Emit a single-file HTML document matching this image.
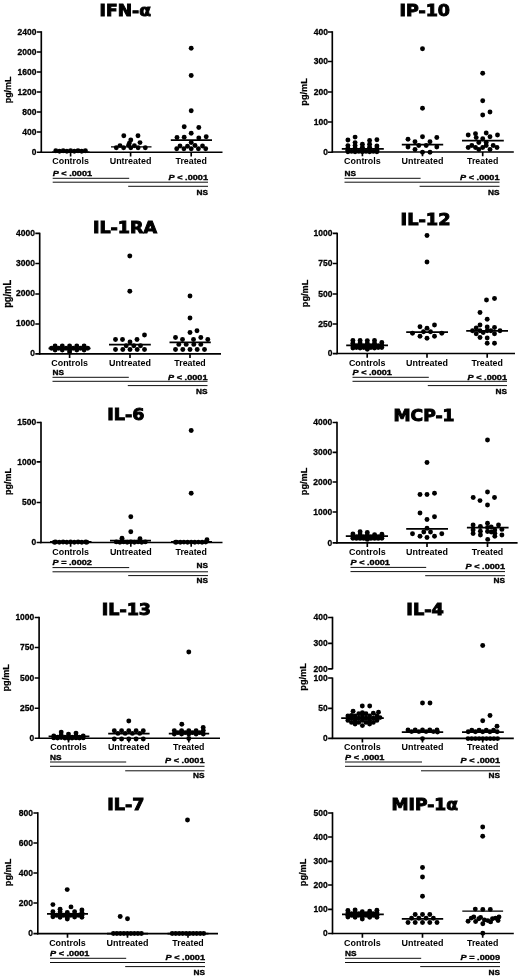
<!DOCTYPE html>
<html lang="en"><head><meta charset="utf-8"><title>Cytokine plasma levels</title>
<style>html,body{margin:0;padding:0;background:#fff}svg{display:block}.t{font-family:'DejaVu Sans', Verdana, sans-serif;font-weight:bold;fill:#000;stroke:#000;stroke-width:.9px;stroke-linejoin:miter}.k{font-family:'Liberation Sans', Arial, Helvetica, sans-serif;font-weight:bold;font-size:9.2px;fill:#000;text-anchor:end;stroke:#000;stroke-width:.3px}.l{font-family:'Liberation Sans', Arial, Helvetica, sans-serif;font-weight:bold;font-size:9.3px;fill:#000;text-anchor:middle}.s{font-family:'Liberation Sans', Arial, Helvetica, sans-serif;font-weight:bold;font-size:7.7px;fill:#000;stroke:#000;stroke-width:.35px}.p{font-family:'Liberation Sans', Arial, Helvetica, sans-serif;font-weight:bold;fill:#000;text-anchor:middle;stroke:#000;stroke-width:.25px}.a{stroke:#000;stroke-width:1.65;fill:none;stroke-linecap:butt}.m{stroke:#000;stroke-width:1.75;fill:none}.g{stroke:#000;stroke-width:.95;fill:none}circle{fill:#000}</style></head><body>
<svg width="520" height="977" viewBox="0 0 520 977">
<rect width="520" height="977" fill="#fff"/>
<g>
<text class="t" x="99.60" y="16.1" font-size="15.5" textLength="51.32" lengthAdjust="spacingAndGlyphs">IFN-α</text>
<path class="a" d="M41.3 31.2V152.9"/>
<path class="a" d="M40.5 152.2H222.5"/>
<path class="a" d="M36.9 32.0H41.3M36.9 52.0H41.3M36.9 72.0H41.3M36.9 92.0H41.3M36.9 112.0H41.3M36.9 132.0H41.3M36.9 152.2H41.3M70.6 152.2V156.4M130.6 152.2V156.4M191.2 152.2V156.4"/>
<text class="k" x="36.5" y="35.0" textLength="18.9" lengthAdjust="spacingAndGlyphs">2400</text>
<text class="k" x="36.5" y="55.0" textLength="18.9" lengthAdjust="spacingAndGlyphs">2000</text>
<text class="k" x="36.5" y="75.0" textLength="18.9" lengthAdjust="spacingAndGlyphs">1600</text>
<text class="k" x="36.5" y="95.0" textLength="18.9" lengthAdjust="spacingAndGlyphs">1200</text>
<text class="k" x="36.5" y="115.0" textLength="14.2" lengthAdjust="spacingAndGlyphs">800</text>
<text class="k" x="36.5" y="135.0" textLength="14.2" lengthAdjust="spacingAndGlyphs">400</text>
<text class="k" x="36.5" y="155.2" textLength="4.7" lengthAdjust="spacingAndGlyphs">0</text>
<text class="l" x="70.6" y="164.4" textLength="36.6" lengthAdjust="spacingAndGlyphs">Controls</text>
<text class="l" x="130.6" y="164.4" textLength="41.8" lengthAdjust="spacingAndGlyphs">Untreated</text>
<text class="l" x="191.2" y="164.4" textLength="31.4" lengthAdjust="spacingAndGlyphs">Treated</text>
<text class="p" transform="translate(10.7 89.9) rotate(-90)" x="0" y="0" font-size="9.8" textLength="26.8" lengthAdjust="spacingAndGlyphs">pg/mL</text>
<path class="g" d="M52.7 178.3H129.2M52.7 182.2H208.0M128.2 186.3H208.0"/>
<text class="s" x="52.7" y="175.7" textLength="39.4" lengthAdjust="spacingAndGlyphs"><tspan font-style="italic">P</tspan> &lt; .0001</text>
<text class="s" x="168.6" y="179.9" textLength="39.4" lengthAdjust="spacingAndGlyphs"><tspan font-style="italic">P</tspan> &lt; .0001</text>
<text class="s" x="196.5" y="194.6" textLength="11.5" lengthAdjust="spacingAndGlyphs">NS</text>
<path class="m" style="stroke-width:1.00" d="M52.0 151.9H89.5"/>
<path class="m" style="stroke-width:1.25" d="M111.0 146.8H151.5"/>
<path class="m" d="M170.8 140.2H212.0"/>
<circle cx="55.8" cy="150.8" r="2.45"/>
<circle cx="63.2" cy="150.8" r="2.45"/>
<circle cx="70.6" cy="150.8" r="2.45"/>
<circle cx="78.0" cy="150.8" r="2.45"/>
<circle cx="85.4" cy="150.8" r="2.45"/>
<circle cx="59.5" cy="151.2" r="2.45"/>
<circle cx="66.9" cy="151.2" r="2.45"/>
<circle cx="74.3" cy="151.2" r="2.45"/>
<circle cx="81.7" cy="151.2" r="2.45"/>
<circle cx="123.8" cy="135.8" r="2.45"/>
<circle cx="138.0" cy="135.8" r="2.45"/>
<circle cx="130.8" cy="140.0" r="2.45"/>
<circle cx="140.0" cy="142.6" r="2.45"/>
<circle cx="120.0" cy="145.6" r="2.45"/>
<circle cx="128.6" cy="145.2" r="2.45"/>
<circle cx="134.4" cy="145.8" r="2.45"/>
<circle cx="129.4" cy="143.1" r="2.45"/>
<circle cx="116.3" cy="147.7" r="2.45"/>
<circle cx="123.6" cy="147.7" r="2.45"/>
<circle cx="130.8" cy="147.7" r="2.45"/>
<circle cx="138.1" cy="147.7" r="2.45"/>
<circle cx="145.3" cy="147.7" r="2.45"/>
<circle cx="191.2" cy="48.3" r="2.45"/>
<circle cx="191.2" cy="75.5" r="2.45"/>
<circle cx="191.2" cy="110.8" r="2.45"/>
<circle cx="184.2" cy="126.8" r="2.45"/>
<circle cx="198.8" cy="127.5" r="2.45"/>
<circle cx="191.2" cy="133.3" r="2.45"/>
<circle cx="177.0" cy="137.5" r="2.45"/>
<circle cx="184.2" cy="137.2" r="2.45"/>
<circle cx="198.8" cy="138.0" r="2.45"/>
<circle cx="206.2" cy="136.8" r="2.45"/>
<circle cx="191.2" cy="142.5" r="2.45"/>
<circle cx="195.0" cy="145.5" r="2.45"/>
<circle cx="180.0" cy="146.0" r="2.45"/>
<circle cx="187.5" cy="146.3" r="2.45"/>
<circle cx="202.5" cy="146.0" r="2.45"/>
<circle cx="176.7" cy="148.8" r="2.45"/>
<circle cx="183.9" cy="148.8" r="2.45"/>
<circle cx="191.2" cy="148.8" r="2.45"/>
<circle cx="198.4" cy="148.8" r="2.45"/>
<circle cx="205.7" cy="148.8" r="2.45"/>
</g>
<g>
<text class="t" x="399.50" y="16.1" font-size="15.5" textLength="50.52" lengthAdjust="spacingAndGlyphs">IP-10</text>
<path class="a" d="M332.3 31.2V152.8"/>
<path class="a" d="M331.6 152.0H513.8"/>
<path class="a" d="M327.9 32.0H332.3M327.9 61.5H332.3M327.9 92.0H332.3M327.9 122.0H332.3M327.9 152.2H332.3M362.4 152.0V156.2M422.5 152.0V156.2M482.7 152.0V156.2"/>
<text class="k" x="327.9" y="34.6" textLength="14.2" lengthAdjust="spacingAndGlyphs">400</text>
<text class="k" x="327.9" y="64.1" textLength="14.2" lengthAdjust="spacingAndGlyphs">300</text>
<text class="k" x="327.9" y="94.6" textLength="14.2" lengthAdjust="spacingAndGlyphs">200</text>
<text class="k" x="327.9" y="124.6" textLength="14.2" lengthAdjust="spacingAndGlyphs">100</text>
<text class="k" x="327.9" y="154.8" textLength="4.7" lengthAdjust="spacingAndGlyphs">0</text>
<text class="l" x="362.4" y="164.0" textLength="36.6" lengthAdjust="spacingAndGlyphs">Controls</text>
<text class="l" x="422.5" y="164.0" textLength="41.8" lengthAdjust="spacingAndGlyphs">Untreated</text>
<text class="l" x="482.7" y="164.0" textLength="31.4" lengthAdjust="spacingAndGlyphs">Treated</text>
<text class="p" transform="translate(306.9 92.0) rotate(-90)" x="0" y="0" font-size="9.8" textLength="27.4" lengthAdjust="spacingAndGlyphs">pg/mL</text>
<path class="g" d="M344.5 178.3H420.6M344.5 182.2H499.5M419.6 186.3H499.5"/>
<text class="s" x="344.5" y="175.7" textLength="11.5" lengthAdjust="spacingAndGlyphs">NS</text>
<text class="s" x="460.1" y="179.9" textLength="39.4" lengthAdjust="spacingAndGlyphs"><tspan font-style="italic">P</tspan> &lt; .0001</text>
<text class="s" x="488.0" y="194.6" textLength="11.5" lengthAdjust="spacingAndGlyphs">NS</text>
<path class="m" d="M341.8 148.8H383.8M401.8 144.6H443.2M462.0 140.5H503.8"/>
<circle cx="347.9" cy="140.0" r="2.45"/>
<circle cx="347.9" cy="145.6" r="2.45"/>
<circle cx="347.9" cy="148.2" r="2.45"/>
<circle cx="355.1" cy="137.1" r="2.45"/>
<circle cx="355.1" cy="142.6" r="2.45"/>
<circle cx="355.1" cy="145.6" r="2.45"/>
<circle cx="355.1" cy="148.2" r="2.45"/>
<circle cx="362.4" cy="144.2" r="2.45"/>
<circle cx="362.4" cy="147.2" r="2.45"/>
<circle cx="369.6" cy="140.4" r="2.45"/>
<circle cx="369.6" cy="144.2" r="2.45"/>
<circle cx="369.6" cy="147.2" r="2.45"/>
<circle cx="376.9" cy="139.8" r="2.45"/>
<circle cx="376.9" cy="146.0" r="2.45"/>
<circle cx="376.9" cy="148.5" r="2.45"/>
<circle cx="347.9" cy="150.3" r="2.45"/>
<circle cx="355.1" cy="150.3" r="2.45"/>
<circle cx="362.4" cy="150.3" r="2.45"/>
<circle cx="369.6" cy="150.3" r="2.45"/>
<circle cx="376.9" cy="150.3" r="2.45"/>
<circle cx="351.5" cy="151.4" r="2.45"/>
<circle cx="358.8" cy="151.4" r="2.45"/>
<circle cx="366.0" cy="151.4" r="2.45"/>
<circle cx="373.3" cy="151.4" r="2.45"/>
<circle cx="347.9" cy="151.7" r="2.45"/>
<circle cx="355.1" cy="151.7" r="2.45"/>
<circle cx="362.4" cy="151.7" r="2.45"/>
<circle cx="369.6" cy="151.7" r="2.45"/>
<circle cx="376.9" cy="151.7" r="2.45"/>
<circle cx="422.5" cy="48.8" r="2.45"/>
<circle cx="422.5" cy="108.3" r="2.45"/>
<circle cx="422.5" cy="136.8" r="2.45"/>
<circle cx="408.0" cy="139.3" r="2.45"/>
<circle cx="436.8" cy="137.5" r="2.45"/>
<circle cx="415.0" cy="141.8" r="2.45"/>
<circle cx="430.0" cy="141.8" r="2.45"/>
<circle cx="418.8" cy="145.5" r="2.45"/>
<circle cx="426.2" cy="145.5" r="2.45"/>
<circle cx="408.0" cy="147.0" r="2.45"/>
<circle cx="436.8" cy="147.0" r="2.45"/>
<circle cx="415.0" cy="149.5" r="2.45"/>
<circle cx="422.5" cy="152.3" r="2.45"/>
<circle cx="430.0" cy="152.3" r="2.45"/>
<circle cx="482.7" cy="73.3" r="2.45"/>
<circle cx="482.7" cy="100.8" r="2.45"/>
<circle cx="482.7" cy="115.0" r="2.45"/>
<circle cx="490.0" cy="112.0" r="2.45"/>
<circle cx="486.2" cy="133.0" r="2.45"/>
<circle cx="468.2" cy="135.0" r="2.45"/>
<circle cx="475.5" cy="133.8" r="2.45"/>
<circle cx="497.5" cy="135.0" r="2.45"/>
<circle cx="490.0" cy="136.8" r="2.45"/>
<circle cx="476.2" cy="137.6" r="2.45"/>
<circle cx="482.7" cy="138.8" r="2.45"/>
<circle cx="478.8" cy="142.5" r="2.45"/>
<circle cx="486.2" cy="142.5" r="2.45"/>
<circle cx="471.8" cy="145.5" r="2.45"/>
<circle cx="486.2" cy="145.5" r="2.45"/>
<circle cx="493.2" cy="145.5" r="2.45"/>
<circle cx="468.2" cy="147.5" r="2.45"/>
<circle cx="475.5" cy="147.5" r="2.45"/>
<circle cx="482.7" cy="147.5" r="2.45"/>
<circle cx="497.0" cy="147.5" r="2.45"/>
<circle cx="478.8" cy="149.5" r="2.45"/>
<circle cx="490.0" cy="149.5" r="2.45"/>
</g>
<g>
<text class="t" x="92.90" y="233.1" font-size="15.5" textLength="64.12" lengthAdjust="spacingAndGlyphs">IL-1RA</text>
<path class="a" d="M39.7 232.7V354.6"/>
<path class="a" d="M39.0 353.8H221.0"/>
<path class="a" d="M35.3 233.4H39.7M35.3 263.5H39.7M35.3 294.0H39.7M35.3 324.0H39.7M35.3 353.8H39.7M69.6 353.8V358.0M130.0 353.8V358.0M190.0 353.8V358.0"/>
<text class="k" x="34.9" y="235.5" textLength="18.9" lengthAdjust="spacingAndGlyphs">4000</text>
<text class="k" x="34.9" y="265.6" textLength="18.9" lengthAdjust="spacingAndGlyphs">3000</text>
<text class="k" x="34.9" y="296.1" textLength="18.9" lengthAdjust="spacingAndGlyphs">2000</text>
<text class="k" x="34.9" y="326.1" textLength="18.9" lengthAdjust="spacingAndGlyphs">1000</text>
<text class="k" x="34.9" y="355.9" textLength="4.7" lengthAdjust="spacingAndGlyphs">0</text>
<text class="l" x="69.6" y="366.0" textLength="36.6" lengthAdjust="spacingAndGlyphs">Controls</text>
<text class="l" x="130.0" y="366.0" textLength="41.8" lengthAdjust="spacingAndGlyphs">Untreated</text>
<text class="l" x="190.0" y="366.0" textLength="31.4" lengthAdjust="spacingAndGlyphs">Treated</text>
<text class="p" transform="translate(10.7 293.9) rotate(-90)" x="0" y="0" font-size="10.6" textLength="27.9" lengthAdjust="spacingAndGlyphs">pg/mL</text>
<path class="g" d="M52.5 377.3H128.8M52.5 381.3H207.5M127.8 385.6H207.5"/>
<text class="s" x="52.5" y="375.0" textLength="11.5" lengthAdjust="spacingAndGlyphs">NS</text>
<text class="s" x="168.1" y="379.5" textLength="39.4" lengthAdjust="spacingAndGlyphs"><tspan font-style="italic">P</tspan> &lt; .0001</text>
<text class="s" x="196.0" y="393.8" textLength="11.5" lengthAdjust="spacingAndGlyphs">NS</text>
<path class="m" d="M48.5 348.3H90.5M109.0 344.5H150.8M169.5 342.3H210.8"/>
<circle cx="55.1" cy="346.0" r="2.45"/>
<circle cx="62.3" cy="346.0" r="2.45"/>
<circle cx="69.6" cy="346.0" r="2.45"/>
<circle cx="76.8" cy="346.0" r="2.45"/>
<circle cx="84.1" cy="346.0" r="2.45"/>
<circle cx="51.5" cy="348.2" r="2.45"/>
<circle cx="58.7" cy="348.2" r="2.45"/>
<circle cx="66.0" cy="348.2" r="2.45"/>
<circle cx="73.2" cy="348.2" r="2.45"/>
<circle cx="80.5" cy="348.2" r="2.45"/>
<circle cx="87.7" cy="348.2" r="2.45"/>
<circle cx="55.1" cy="350.0" r="2.45"/>
<circle cx="62.3" cy="350.0" r="2.45"/>
<circle cx="69.6" cy="350.0" r="2.45"/>
<circle cx="76.8" cy="350.0" r="2.45"/>
<circle cx="84.1" cy="350.0" r="2.45"/>
<circle cx="69.6" cy="352.0" r="2.45"/>
<circle cx="129.8" cy="256.0" r="2.45"/>
<circle cx="129.8" cy="291.3" r="2.45"/>
<circle cx="115.5" cy="339.5" r="2.45"/>
<circle cx="122.5" cy="339.5" r="2.45"/>
<circle cx="137.0" cy="339.5" r="2.45"/>
<circle cx="144.5" cy="335.0" r="2.45"/>
<circle cx="130.0" cy="342.0" r="2.45"/>
<circle cx="126.2" cy="345.8" r="2.45"/>
<circle cx="133.8" cy="345.8" r="2.45"/>
<circle cx="140.5" cy="345.8" r="2.45"/>
<circle cx="115.5" cy="349.5" r="2.45"/>
<circle cx="122.8" cy="349.5" r="2.45"/>
<circle cx="130.0" cy="349.5" r="2.45"/>
<circle cx="137.2" cy="349.5" r="2.45"/>
<circle cx="144.5" cy="349.5" r="2.45"/>
<circle cx="190.0" cy="296.0" r="2.45"/>
<circle cx="190.0" cy="318.0" r="2.45"/>
<circle cx="190.0" cy="332.5" r="2.45"/>
<circle cx="197.0" cy="330.8" r="2.45"/>
<circle cx="175.5" cy="337.5" r="2.45"/>
<circle cx="200.8" cy="337.5" r="2.45"/>
<circle cx="182.5" cy="339.5" r="2.45"/>
<circle cx="193.5" cy="339.5" r="2.45"/>
<circle cx="207.8" cy="339.5" r="2.45"/>
<circle cx="178.8" cy="344.4" r="2.45"/>
<circle cx="186.2" cy="344.4" r="2.45"/>
<circle cx="193.8" cy="344.4" r="2.45"/>
<circle cx="200.8" cy="344.4" r="2.45"/>
<circle cx="175.5" cy="349.5" r="2.45"/>
<circle cx="182.8" cy="349.5" r="2.45"/>
<circle cx="190.0" cy="349.5" r="2.45"/>
<circle cx="197.2" cy="349.5" r="2.45"/>
<circle cx="204.5" cy="349.5" r="2.45"/>
</g>
<g>
<text class="t" x="400.60" y="225.1" font-size="15.5" textLength="49.95" lengthAdjust="spacingAndGlyphs">IL-12</text>
<path class="a" d="M337.2 232.7V354.2"/>
<path class="a" d="M336.4 353.5H515.0"/>
<path class="a" d="M332.8 233.4H337.2M332.8 263.5H337.2M332.8 294.0H337.2M332.8 324.0H337.2M332.8 353.6H337.2M367.2 353.5V357.7M427.0 353.5V357.7M487.2 353.5V357.7"/>
<text class="k" x="332.4" y="236.1" textLength="18.9" lengthAdjust="spacingAndGlyphs">1000</text>
<text class="k" x="332.4" y="266.2" textLength="14.2" lengthAdjust="spacingAndGlyphs">750</text>
<text class="k" x="332.4" y="296.7" textLength="14.2" lengthAdjust="spacingAndGlyphs">500</text>
<text class="k" x="332.4" y="326.7" textLength="14.2" lengthAdjust="spacingAndGlyphs">250</text>
<text class="k" x="332.4" y="356.3" textLength="4.7" lengthAdjust="spacingAndGlyphs">0</text>
<text class="l" x="367.2" y="366.0" textLength="36.6" lengthAdjust="spacingAndGlyphs">Controls</text>
<text class="l" x="427.0" y="366.0" textLength="41.8" lengthAdjust="spacingAndGlyphs">Untreated</text>
<text class="l" x="487.2" y="366.0" textLength="31.4" lengthAdjust="spacingAndGlyphs">Treated</text>
<text class="p" transform="translate(307.9 293.5) rotate(-90)" x="0" y="0" font-size="9.8" textLength="27.4" lengthAdjust="spacingAndGlyphs">pg/mL</text>
<path class="g" d="M352.5 377.3H428.8M352.5 381.3H507.0M427.8 385.6H507.0"/>
<text class="s" x="352.5" y="375.0" textLength="39.4" lengthAdjust="spacingAndGlyphs"><tspan font-style="italic">P</tspan> &lt; .0001</text>
<text class="s" x="467.6" y="379.5" textLength="39.4" lengthAdjust="spacingAndGlyphs"><tspan font-style="italic">P</tspan> &lt; .0001</text>
<text class="s" x="495.5" y="393.8" textLength="11.5" lengthAdjust="spacingAndGlyphs">NS</text>
<path class="m" d="M346.2 345.3H388.0M406.2 332.1H448.0M466.2 330.8H508.0"/>
<circle cx="352.9" cy="340.5" r="2.45"/>
<circle cx="352.9" cy="343.2" r="2.45"/>
<circle cx="352.9" cy="345.8" r="2.45"/>
<circle cx="352.9" cy="348.0" r="2.45"/>
<circle cx="360.1" cy="340.5" r="2.45"/>
<circle cx="360.1" cy="343.2" r="2.45"/>
<circle cx="360.1" cy="345.8" r="2.45"/>
<circle cx="360.1" cy="348.0" r="2.45"/>
<circle cx="367.3" cy="340.6" r="2.45"/>
<circle cx="367.3" cy="343.2" r="2.45"/>
<circle cx="367.3" cy="345.8" r="2.45"/>
<circle cx="367.3" cy="348.0" r="2.45"/>
<circle cx="367.3" cy="349.2" r="2.45"/>
<circle cx="374.5" cy="340.5" r="2.45"/>
<circle cx="374.5" cy="343.2" r="2.45"/>
<circle cx="374.5" cy="345.8" r="2.45"/>
<circle cx="374.5" cy="348.0" r="2.45"/>
<circle cx="381.8" cy="342.4" r="2.45"/>
<circle cx="381.8" cy="345.0" r="2.45"/>
<circle cx="381.8" cy="347.6" r="2.45"/>
<circle cx="356.4" cy="345.6" r="2.45"/>
<circle cx="363.7" cy="345.6" r="2.45"/>
<circle cx="370.9" cy="345.6" r="2.45"/>
<circle cx="378.2" cy="345.6" r="2.45"/>
<circle cx="356.4" cy="347.6" r="2.45"/>
<circle cx="363.7" cy="347.6" r="2.45"/>
<circle cx="370.9" cy="347.6" r="2.45"/>
<circle cx="378.2" cy="347.6" r="2.45"/>
<circle cx="427.0" cy="235.5" r="2.45"/>
<circle cx="427.0" cy="262.0" r="2.45"/>
<circle cx="420.0" cy="326.8" r="2.45"/>
<circle cx="434.5" cy="325.0" r="2.45"/>
<circle cx="427.0" cy="328.3" r="2.45"/>
<circle cx="423.5" cy="331.8" r="2.45"/>
<circle cx="430.5" cy="331.8" r="2.45"/>
<circle cx="412.5" cy="333.3" r="2.45"/>
<circle cx="441.8" cy="333.3" r="2.45"/>
<circle cx="420.0" cy="336.3" r="2.45"/>
<circle cx="434.5" cy="336.3" r="2.45"/>
<circle cx="427.0" cy="338.3" r="2.45"/>
<circle cx="494.5" cy="298.5" r="2.45"/>
<circle cx="486.5" cy="300.0" r="2.45"/>
<circle cx="480.0" cy="312.5" r="2.45"/>
<circle cx="487.2" cy="319.3" r="2.45"/>
<circle cx="480.0" cy="325.0" r="2.45"/>
<circle cx="487.2" cy="327.0" r="2.45"/>
<circle cx="494.5" cy="327.5" r="2.45"/>
<circle cx="476.2" cy="328.0" r="2.45"/>
<circle cx="472.5" cy="330.8" r="2.45"/>
<circle cx="480.0" cy="330.8" r="2.45"/>
<circle cx="487.2" cy="330.8" r="2.45"/>
<circle cx="490.8" cy="330.8" r="2.45"/>
<circle cx="500.0" cy="330.8" r="2.45"/>
<circle cx="476.2" cy="333.8" r="2.45"/>
<circle cx="494.5" cy="333.8" r="2.45"/>
<circle cx="483.2" cy="332.5" r="2.45"/>
<circle cx="480.0" cy="337.5" r="2.45"/>
<circle cx="487.2" cy="338.0" r="2.45"/>
<circle cx="487.2" cy="343.3" r="2.45"/>
<circle cx="494.5" cy="343.3" r="2.45"/>
</g>
<g>
<text class="t" x="107.30" y="420.1" font-size="15.5" textLength="37.17" lengthAdjust="spacingAndGlyphs">IL-6</text>
<path class="a" d="M41.0 421.8V543.2"/>
<path class="a" d="M40.2 542.5H222.5"/>
<path class="a" d="M36.6 422.5H41.0M36.6 461.8H41.0M36.6 502.5H41.0M36.6 542.5H41.0M70.6 542.5V546.7M130.8 542.5V546.7M191.2 542.5V546.7"/>
<text class="k" x="36.2" y="425.2" textLength="18.9" lengthAdjust="spacingAndGlyphs">1500</text>
<text class="k" x="36.2" y="464.5" textLength="18.9" lengthAdjust="spacingAndGlyphs">1000</text>
<text class="k" x="36.2" y="505.2" textLength="14.2" lengthAdjust="spacingAndGlyphs">500</text>
<text class="k" x="36.2" y="545.2" textLength="4.7" lengthAdjust="spacingAndGlyphs">0</text>
<text class="l" x="70.6" y="554.5" textLength="36.6" lengthAdjust="spacingAndGlyphs">Controls</text>
<text class="l" x="130.8" y="554.5" textLength="41.8" lengthAdjust="spacingAndGlyphs">Untreated</text>
<text class="l" x="191.2" y="554.5" textLength="31.4" lengthAdjust="spacingAndGlyphs">Treated</text>
<text class="p" transform="translate(10.7 481.6) rotate(-90)" x="0" y="0" font-size="8.9" textLength="26.9" lengthAdjust="spacingAndGlyphs">pg/mL</text>
<path class="g" d="M52.5 567.6H129.2M52.5 571.8H208.0M128.2 575.6H208.0"/>
<text class="s" x="52.5" y="565.0" textLength="39.4" lengthAdjust="spacingAndGlyphs"><tspan font-style="italic">P</tspan> = .0002</text>
<text class="s" x="196.5" y="568.3" textLength="11.5" lengthAdjust="spacingAndGlyphs">NS</text>
<text class="s" x="196.5" y="583.3" textLength="11.5" lengthAdjust="spacingAndGlyphs">NS</text>
<path class="m" d="M50.0 541.8H91.5M110.0 540.6H151.0M171.0 541.8H212.0"/>
<circle cx="55.6" cy="542.0" r="2.45"/>
<circle cx="63.1" cy="542.0" r="2.45"/>
<circle cx="70.6" cy="542.0" r="2.45"/>
<circle cx="78.1" cy="542.0" r="2.45"/>
<circle cx="85.6" cy="542.0" r="2.45"/>
<circle cx="59.3" cy="542.3" r="2.45"/>
<circle cx="66.8" cy="542.3" r="2.45"/>
<circle cx="74.3" cy="542.3" r="2.45"/>
<circle cx="81.8" cy="542.3" r="2.45"/>
<circle cx="54.4" cy="542.3" r="2.45"/>
<circle cx="86.8" cy="542.3" r="2.45"/>
<circle cx="130.8" cy="516.8" r="2.45"/>
<circle cx="130.8" cy="531.8" r="2.45"/>
<circle cx="122.0" cy="538.3" r="2.45"/>
<circle cx="140.0" cy="538.8" r="2.45"/>
<circle cx="116.3" cy="541.9" r="2.45"/>
<circle cx="123.6" cy="541.9" r="2.45"/>
<circle cx="130.8" cy="541.9" r="2.45"/>
<circle cx="138.1" cy="541.9" r="2.45"/>
<circle cx="145.3" cy="541.9" r="2.45"/>
<circle cx="119.9" cy="542.2" r="2.45"/>
<circle cx="127.2" cy="542.2" r="2.45"/>
<circle cx="134.4" cy="542.2" r="2.45"/>
<circle cx="141.7" cy="542.2" r="2.45"/>
<circle cx="191.2" cy="430.5" r="2.45"/>
<circle cx="191.2" cy="493.3" r="2.45"/>
<circle cx="207.0" cy="539.8" r="2.45"/>
<circle cx="176.7" cy="542.1" r="2.45"/>
<circle cx="183.9" cy="542.1" r="2.45"/>
<circle cx="191.2" cy="542.1" r="2.45"/>
<circle cx="198.4" cy="542.1" r="2.45"/>
<circle cx="205.7" cy="542.1" r="2.45"/>
<circle cx="180.3" cy="542.3" r="2.45"/>
<circle cx="187.6" cy="542.3" r="2.45"/>
<circle cx="194.8" cy="542.3" r="2.45"/>
<circle cx="202.1" cy="542.3" r="2.45"/>
<circle cx="175.5" cy="542.3" r="2.45"/>
</g>
<g>
<text class="t" x="393.50" y="421.1" font-size="15.5" textLength="61.02" lengthAdjust="spacingAndGlyphs">MCP-1</text>
<path class="a" d="M337.0 421.8V543.5"/>
<path class="a" d="M336.2 542.8H517.6"/>
<path class="a" d="M332.6 422.5H337.0M332.6 452.3H337.0M332.6 482.0H337.0M332.6 512.0H337.0M332.6 542.8H337.0M367.3 542.8V547.0M427.0 542.8V547.0M487.5 542.8V547.0"/>
<text class="k" x="332.2" y="425.2" textLength="18.9" lengthAdjust="spacingAndGlyphs">4000</text>
<text class="k" x="332.2" y="455.0" textLength="18.9" lengthAdjust="spacingAndGlyphs">3000</text>
<text class="k" x="332.2" y="484.7" textLength="18.9" lengthAdjust="spacingAndGlyphs">2000</text>
<text class="k" x="332.2" y="514.7" textLength="18.9" lengthAdjust="spacingAndGlyphs">1000</text>
<text class="k" x="332.2" y="545.5" textLength="4.7" lengthAdjust="spacingAndGlyphs">0</text>
<text class="l" x="367.3" y="554.9" textLength="36.6" lengthAdjust="spacingAndGlyphs">Controls</text>
<text class="l" x="427.0" y="554.9" textLength="41.8" lengthAdjust="spacingAndGlyphs">Untreated</text>
<text class="l" x="487.5" y="554.9" textLength="31.4" lengthAdjust="spacingAndGlyphs">Treated</text>
<text class="p" transform="translate(306.9 481.5) rotate(-90)" x="0" y="0" font-size="9.8" textLength="27.4" lengthAdjust="spacingAndGlyphs">pg/mL</text>
<path class="g" d="M350.5 567.4H426.2M350.5 571.6H505.0M425.2 575.7H505.0"/>
<text class="s" x="350.5" y="564.6" textLength="39.4" lengthAdjust="spacingAndGlyphs"><tspan font-style="italic">P</tspan> &lt; .0001</text>
<text class="s" x="465.6" y="569.3" textLength="39.4" lengthAdjust="spacingAndGlyphs"><tspan font-style="italic">P</tspan> &lt; .0001</text>
<text class="s" x="493.5" y="583.3" textLength="11.5" lengthAdjust="spacingAndGlyphs">NS</text>
<path class="m" d="M345.8 536.2H388.0M406.2 528.8H448.0M466.9 527.7H508.6"/>
<circle cx="352.9" cy="533.9" r="2.45"/>
<circle cx="352.9" cy="536.2" r="2.45"/>
<circle cx="352.9" cy="538.2" r="2.45"/>
<circle cx="360.1" cy="531.8" r="2.45"/>
<circle cx="360.1" cy="534.4" r="2.45"/>
<circle cx="360.1" cy="536.8" r="2.45"/>
<circle cx="360.1" cy="538.4" r="2.45"/>
<circle cx="367.3" cy="532.4" r="2.45"/>
<circle cx="367.3" cy="535.0" r="2.45"/>
<circle cx="367.3" cy="537.2" r="2.45"/>
<circle cx="367.3" cy="539.4" r="2.45"/>
<circle cx="374.6" cy="534.6" r="2.45"/>
<circle cx="374.6" cy="536.8" r="2.45"/>
<circle cx="374.6" cy="538.4" r="2.45"/>
<circle cx="381.9" cy="534.3" r="2.45"/>
<circle cx="381.9" cy="536.6" r="2.45"/>
<circle cx="381.9" cy="538.2" r="2.45"/>
<circle cx="356.4" cy="536.6" r="2.45"/>
<circle cx="363.7" cy="536.6" r="2.45"/>
<circle cx="370.9" cy="536.6" r="2.45"/>
<circle cx="378.2" cy="536.6" r="2.45"/>
<circle cx="356.4" cy="538.4" r="2.45"/>
<circle cx="363.7" cy="538.4" r="2.45"/>
<circle cx="370.9" cy="538.4" r="2.45"/>
<circle cx="378.2" cy="538.4" r="2.45"/>
<circle cx="427.0" cy="462.5" r="2.45"/>
<circle cx="420.0" cy="494.5" r="2.45"/>
<circle cx="427.0" cy="494.5" r="2.45"/>
<circle cx="434.5" cy="493.3" r="2.45"/>
<circle cx="420.0" cy="513.0" r="2.45"/>
<circle cx="434.5" cy="516.8" r="2.45"/>
<circle cx="427.0" cy="519.5" r="2.45"/>
<circle cx="427.0" cy="528.3" r="2.45"/>
<circle cx="423.8" cy="532.0" r="2.45"/>
<circle cx="430.5" cy="532.0" r="2.45"/>
<circle cx="412.5" cy="533.8" r="2.45"/>
<circle cx="441.8" cy="533.8" r="2.45"/>
<circle cx="420.0" cy="536.3" r="2.45"/>
<circle cx="434.5" cy="536.3" r="2.45"/>
<circle cx="427.0" cy="537.5" r="2.45"/>
<circle cx="487.5" cy="440.0" r="2.45"/>
<circle cx="487.5" cy="492.0" r="2.45"/>
<circle cx="473.2" cy="497.5" r="2.45"/>
<circle cx="494.5" cy="497.5" r="2.45"/>
<circle cx="480.0" cy="500.6" r="2.45"/>
<circle cx="487.5" cy="505.0" r="2.45"/>
<circle cx="473.1" cy="525.0" r="2.45"/>
<circle cx="487.5" cy="523.3" r="2.45"/>
<circle cx="498.5" cy="525.0" r="2.45"/>
<circle cx="473.1" cy="530.0" r="2.45"/>
<circle cx="480.4" cy="526.5" r="2.45"/>
<circle cx="480.4" cy="531.3" r="2.45"/>
<circle cx="487.5" cy="527.5" r="2.45"/>
<circle cx="491.2" cy="527.0" r="2.45"/>
<circle cx="491.2" cy="532.0" r="2.45"/>
<circle cx="494.8" cy="530.0" r="2.45"/>
<circle cx="501.9" cy="529.4" r="2.45"/>
<circle cx="473.1" cy="533.5" r="2.45"/>
<circle cx="480.4" cy="535.0" r="2.45"/>
<circle cx="487.5" cy="531.5" r="2.45"/>
<circle cx="494.8" cy="533.2" r="2.45"/>
<circle cx="494.8" cy="536.3" r="2.45"/>
<circle cx="501.9" cy="535.0" r="2.45"/>
<circle cx="487.7" cy="539.4" r="2.45"/>
</g>
<g>
<text class="t" x="101.70" y="615.1" font-size="15.5" textLength="49.37" lengthAdjust="spacingAndGlyphs">IL-13</text>
<path class="a" d="M39.1 616.8V739.0"/>
<path class="a" d="M38.4 738.2H220.0"/>
<path class="a" d="M34.7 617.5H39.1M34.7 647.5H39.1M34.7 678.0H39.1M34.7 708.2H39.1M34.7 738.2H39.1M68.5 738.2V742.4M128.8 738.2V742.4M188.8 738.2V742.4"/>
<text class="k" x="34.3" y="620.2" textLength="18.9" lengthAdjust="spacingAndGlyphs">1000</text>
<text class="k" x="34.3" y="650.2" textLength="14.2" lengthAdjust="spacingAndGlyphs">750</text>
<text class="k" x="34.3" y="680.7" textLength="14.2" lengthAdjust="spacingAndGlyphs">500</text>
<text class="k" x="34.3" y="710.9" textLength="14.2" lengthAdjust="spacingAndGlyphs">250</text>
<text class="k" x="34.3" y="740.9" textLength="4.7" lengthAdjust="spacingAndGlyphs">0</text>
<text class="l" x="68.5" y="750.2" textLength="36.6" lengthAdjust="spacingAndGlyphs">Controls</text>
<text class="l" x="128.8" y="750.2" textLength="41.8" lengthAdjust="spacingAndGlyphs">Untreated</text>
<text class="l" x="188.8" y="750.2" textLength="31.4" lengthAdjust="spacingAndGlyphs">Treated</text>
<text class="p" transform="translate(8.7 677.8) rotate(-90)" x="0" y="0" font-size="9.8" textLength="27.4" lengthAdjust="spacingAndGlyphs">pg/mL</text>
<path class="g" d="M50.0 762.0H126.2M50.0 766.3H204.5M125.2 770.8H204.5"/>
<text class="s" x="50.0" y="760.0" textLength="11.5" lengthAdjust="spacingAndGlyphs">NS</text>
<text class="s" x="165.1" y="763.3" textLength="39.4" lengthAdjust="spacingAndGlyphs"><tspan font-style="italic">P</tspan> &lt; .0001</text>
<text class="s" x="193.0" y="778.0" textLength="11.5" lengthAdjust="spacingAndGlyphs">NS</text>
<path class="m" d="M48.6 736.3H89.4M108.2 733.7H149.6M168.8 733.5H209.2"/>
<circle cx="53.8" cy="735.9" r="2.45"/>
<circle cx="53.8" cy="737.9" r="2.45"/>
<circle cx="61.2" cy="732.1" r="2.45"/>
<circle cx="61.2" cy="734.9" r="2.45"/>
<circle cx="61.2" cy="737.5" r="2.45"/>
<circle cx="68.5" cy="734.1" r="2.45"/>
<circle cx="68.5" cy="736.7" r="2.45"/>
<circle cx="68.5" cy="738.3" r="2.45"/>
<circle cx="76.0" cy="733.1" r="2.45"/>
<circle cx="76.0" cy="735.7" r="2.45"/>
<circle cx="76.0" cy="737.9" r="2.45"/>
<circle cx="83.2" cy="735.9" r="2.45"/>
<circle cx="83.2" cy="737.9" r="2.45"/>
<circle cx="57.6" cy="737.3" r="2.45"/>
<circle cx="64.9" cy="737.3" r="2.45"/>
<circle cx="72.1" cy="737.3" r="2.45"/>
<circle cx="79.4" cy="737.3" r="2.45"/>
<circle cx="57.6" cy="738.1" r="2.45"/>
<circle cx="64.9" cy="738.1" r="2.45"/>
<circle cx="72.1" cy="738.1" r="2.45"/>
<circle cx="79.4" cy="738.1" r="2.45"/>
<circle cx="128.8" cy="721.0" r="2.45"/>
<circle cx="114.3" cy="730.8" r="2.45"/>
<circle cx="121.6" cy="730.8" r="2.45"/>
<circle cx="128.8" cy="730.8" r="2.45"/>
<circle cx="136.1" cy="730.8" r="2.45"/>
<circle cx="143.3" cy="730.8" r="2.45"/>
<circle cx="117.9" cy="733.4" r="2.45"/>
<circle cx="125.2" cy="733.4" r="2.45"/>
<circle cx="132.4" cy="733.4" r="2.45"/>
<circle cx="139.7" cy="733.4" r="2.45"/>
<circle cx="114.3" cy="739.0" r="2.45"/>
<circle cx="121.6" cy="739.0" r="2.45"/>
<circle cx="128.8" cy="739.0" r="2.45"/>
<circle cx="136.1" cy="739.0" r="2.45"/>
<circle cx="143.3" cy="739.0" r="2.45"/>
<circle cx="188.8" cy="652.0" r="2.45"/>
<circle cx="181.8" cy="724.3" r="2.45"/>
<circle cx="203.2" cy="727.5" r="2.45"/>
<circle cx="174.3" cy="730.6" r="2.45"/>
<circle cx="181.6" cy="730.6" r="2.45"/>
<circle cx="188.8" cy="730.6" r="2.45"/>
<circle cx="196.1" cy="730.6" r="2.45"/>
<circle cx="203.3" cy="730.6" r="2.45"/>
<circle cx="177.9" cy="732.6" r="2.45"/>
<circle cx="185.2" cy="732.6" r="2.45"/>
<circle cx="192.4" cy="732.6" r="2.45"/>
<circle cx="199.7" cy="732.6" r="2.45"/>
<circle cx="174.3" cy="734.0" r="2.45"/>
<circle cx="181.6" cy="734.0" r="2.45"/>
<circle cx="188.8" cy="734.0" r="2.45"/>
<circle cx="196.1" cy="734.0" r="2.45"/>
<circle cx="203.3" cy="734.0" r="2.45"/>
<circle cx="188.8" cy="738.5" r="2.45"/>
</g>
<g>
<text class="t" x="406.30" y="615.1" font-size="15.5" textLength="37.52" lengthAdjust="spacingAndGlyphs">IL-4</text>
<path class="a" d="M332.5 616.8V669.2M332.5 677.6V739.0"/>
<path class="a" d="M331.8 738.3H513.8"/>
<path class="a" d="M328.1 617.5H332.5M328.1 643.3H332.5M328.1 668.8H332.5M328.1 678.0H332.5M328.1 708.3H332.5M328.1 738.3H332.5M362.4 738.3V742.5M422.5 738.3V742.5M482.7 738.3V742.5"/>
<text class="k" x="327.7" y="620.2" textLength="14.2" lengthAdjust="spacingAndGlyphs">400</text>
<text class="k" x="327.7" y="646.0" textLength="14.2" lengthAdjust="spacingAndGlyphs">300</text>
<text class="k" x="327.7" y="671.5" textLength="14.2" lengthAdjust="spacingAndGlyphs">200</text>
<text class="k" x="327.7" y="680.7" textLength="14.2" lengthAdjust="spacingAndGlyphs">100</text>
<text class="k" x="327.7" y="711.0" textLength="9.4" lengthAdjust="spacingAndGlyphs">50</text>
<text class="k" x="327.7" y="741.0" textLength="4.7" lengthAdjust="spacingAndGlyphs">0</text>
<text class="l" x="362.4" y="749.8" textLength="36.6" lengthAdjust="spacingAndGlyphs">Controls</text>
<text class="l" x="422.5" y="749.8" textLength="41.8" lengthAdjust="spacingAndGlyphs">Untreated</text>
<text class="l" x="482.7" y="749.8" textLength="31.4" lengthAdjust="spacingAndGlyphs">Treated</text>
<text class="p" transform="translate(306.4 677.0) rotate(-90)" x="0" y="0" font-size="9.8" textLength="27.4" lengthAdjust="spacingAndGlyphs">pg/mL</text>
<path class="g" d="M345.0 762.0H422.0M345.0 766.3H500.0M421.0 770.8H500.0"/>
<text class="s" x="345.0" y="760.0" textLength="39.4" lengthAdjust="spacingAndGlyphs"><tspan font-style="italic">P</tspan> &lt; .0001</text>
<text class="s" x="460.6" y="763.3" textLength="39.4" lengthAdjust="spacingAndGlyphs"><tspan font-style="italic">P</tspan> &lt; .0001</text>
<text class="s" x="488.5" y="778.0" textLength="11.5" lengthAdjust="spacingAndGlyphs">NS</text>
<path class="m" d="M341.2 718.0H383.8M401.8 732.0H443.2M462.0 732.0H503.8"/>
<circle cx="362.3" cy="706.0" r="2.45"/>
<circle cx="369.7" cy="706.0" r="2.45"/>
<circle cx="353.1" cy="711.3" r="2.45"/>
<circle cx="378.5" cy="712.3" r="2.45"/>
<circle cx="358.8" cy="713.8" r="2.45"/>
<circle cx="362.4" cy="712.6" r="2.45"/>
<circle cx="366.0" cy="713.8" r="2.45"/>
<circle cx="373.3" cy="713.2" r="2.45"/>
<circle cx="347.9" cy="716.0" r="2.45"/>
<circle cx="351.5" cy="715.4" r="2.45"/>
<circle cx="355.1" cy="716.0" r="2.45"/>
<circle cx="362.4" cy="716.0" r="2.45"/>
<circle cx="369.6" cy="716.0" r="2.45"/>
<circle cx="376.9" cy="716.0" r="2.45"/>
<circle cx="351.5" cy="718.2" r="2.45"/>
<circle cx="358.8" cy="718.2" r="2.45"/>
<circle cx="366.0" cy="718.2" r="2.45"/>
<circle cx="373.3" cy="718.2" r="2.45"/>
<circle cx="380.0" cy="717.6" r="2.45"/>
<circle cx="347.9" cy="720.4" r="2.45"/>
<circle cx="355.1" cy="720.4" r="2.45"/>
<circle cx="362.4" cy="720.4" r="2.45"/>
<circle cx="369.6" cy="720.4" r="2.45"/>
<circle cx="376.9" cy="720.4" r="2.45"/>
<circle cx="351.5" cy="722.4" r="2.45"/>
<circle cx="358.8" cy="722.4" r="2.45"/>
<circle cx="366.0" cy="722.4" r="2.45"/>
<circle cx="373.3" cy="722.4" r="2.45"/>
<circle cx="355.1" cy="724.0" r="2.45"/>
<circle cx="369.6" cy="724.0" r="2.45"/>
<circle cx="362.4" cy="725.6" r="2.45"/>
<circle cx="422.5" cy="703.0" r="2.45"/>
<circle cx="430.0" cy="703.0" r="2.45"/>
<circle cx="408.0" cy="730.0" r="2.45"/>
<circle cx="415.2" cy="730.0" r="2.45"/>
<circle cx="422.5" cy="730.0" r="2.45"/>
<circle cx="429.8" cy="730.0" r="2.45"/>
<circle cx="437.0" cy="730.0" r="2.45"/>
<circle cx="411.6" cy="731.6" r="2.45"/>
<circle cx="418.9" cy="731.6" r="2.45"/>
<circle cx="426.1" cy="731.6" r="2.45"/>
<circle cx="433.4" cy="731.6" r="2.45"/>
<circle cx="437.5" cy="732.0" r="2.45"/>
<circle cx="422.5" cy="738.6" r="2.45"/>
<circle cx="482.7" cy="645.5" r="2.45"/>
<circle cx="490.0" cy="715.5" r="2.45"/>
<circle cx="482.7" cy="720.8" r="2.45"/>
<circle cx="497.0" cy="726.3" r="2.45"/>
<circle cx="471.8" cy="730.2" r="2.45"/>
<circle cx="479.1" cy="730.2" r="2.45"/>
<circle cx="486.3" cy="730.2" r="2.45"/>
<circle cx="493.6" cy="730.2" r="2.45"/>
<circle cx="468.2" cy="731.8" r="2.45"/>
<circle cx="475.4" cy="731.8" r="2.45"/>
<circle cx="482.7" cy="731.8" r="2.45"/>
<circle cx="489.9" cy="731.8" r="2.45"/>
<circle cx="497.2" cy="731.8" r="2.45"/>
<circle cx="468.0" cy="738.6" r="2.45"/>
<circle cx="471.7" cy="738.6" r="2.45"/>
<circle cx="475.4" cy="738.6" r="2.45"/>
<circle cx="479.1" cy="738.6" r="2.45"/>
<circle cx="482.8" cy="738.6" r="2.45"/>
<circle cx="486.5" cy="738.6" r="2.45"/>
<circle cx="490.2" cy="738.6" r="2.45"/>
<circle cx="493.9" cy="738.6" r="2.45"/>
<circle cx="497.6" cy="738.6" r="2.45"/>
</g>
<g>
<text class="t" x="107.30" y="810.1" font-size="15.5" textLength="37.17" lengthAdjust="spacingAndGlyphs">IL-7</text>
<path class="a" d="M37.8 812.2V934.4"/>
<path class="a" d="M37.0 933.6H218.0"/>
<path class="a" d="M33.4 813.0H37.8M33.4 843.0H37.8M33.4 873.0H37.8M33.4 903.0H37.8M33.4 933.6H37.8M67.5 933.6V937.8M127.5 933.6V937.8M188.0 933.6V937.8"/>
<text class="k" x="33.0" y="815.7" textLength="14.2" lengthAdjust="spacingAndGlyphs">800</text>
<text class="k" x="33.0" y="845.7" textLength="14.2" lengthAdjust="spacingAndGlyphs">600</text>
<text class="k" x="33.0" y="875.7" textLength="14.2" lengthAdjust="spacingAndGlyphs">400</text>
<text class="k" x="33.0" y="905.7" textLength="14.2" lengthAdjust="spacingAndGlyphs">200</text>
<text class="k" x="33.0" y="936.3" textLength="4.7" lengthAdjust="spacingAndGlyphs">0</text>
<text class="l" x="67.5" y="945.5" textLength="36.6" lengthAdjust="spacingAndGlyphs">Controls</text>
<text class="l" x="127.5" y="945.5" textLength="41.8" lengthAdjust="spacingAndGlyphs">Untreated</text>
<text class="l" x="188.0" y="945.5" textLength="31.4" lengthAdjust="spacingAndGlyphs">Treated</text>
<text class="p" transform="translate(10.7 872.5) rotate(-90)" x="0" y="0" font-size="9.8" textLength="27.4" lengthAdjust="spacingAndGlyphs">pg/mL</text>
<path class="g" d="M50.0 958.3H126.2M50.0 962.5H205.0M125.2 966.6H205.0"/>
<text class="s" x="50.0" y="955.8" textLength="39.4" lengthAdjust="spacingAndGlyphs"><tspan font-style="italic">P</tspan> &lt; .0001</text>
<text class="s" x="165.6" y="960.0" textLength="39.4" lengthAdjust="spacingAndGlyphs"><tspan font-style="italic">P</tspan> &lt; .0001</text>
<text class="s" x="193.5" y="974.6" textLength="11.5" lengthAdjust="spacingAndGlyphs">NS</text>
<path class="m" d="M47.0 913.8H88.0M107.0 933.5H148.0M167.5 933.5H208.5"/>
<circle cx="67.2" cy="889.6" r="2.45"/>
<circle cx="52.9" cy="904.6" r="2.45"/>
<circle cx="71.0" cy="906.9" r="2.45"/>
<circle cx="52.9" cy="911.8" r="2.45"/>
<circle cx="52.9" cy="914.4" r="2.45"/>
<circle cx="52.9" cy="916.8" r="2.45"/>
<circle cx="60.1" cy="909.3" r="2.45"/>
<circle cx="60.1" cy="912.0" r="2.45"/>
<circle cx="60.1" cy="914.6" r="2.45"/>
<circle cx="60.1" cy="917.2" r="2.45"/>
<circle cx="67.3" cy="912.4" r="2.45"/>
<circle cx="67.3" cy="915.0" r="2.45"/>
<circle cx="67.3" cy="917.4" r="2.45"/>
<circle cx="67.3" cy="919.0" r="2.45"/>
<circle cx="74.6" cy="911.8" r="2.45"/>
<circle cx="74.6" cy="914.4" r="2.45"/>
<circle cx="74.6" cy="917.0" r="2.45"/>
<circle cx="81.9" cy="909.9" r="2.45"/>
<circle cx="81.9" cy="912.6" r="2.45"/>
<circle cx="81.9" cy="915.2" r="2.45"/>
<circle cx="81.9" cy="917.2" r="2.45"/>
<circle cx="56.4" cy="915.2" r="2.45"/>
<circle cx="63.7" cy="915.2" r="2.45"/>
<circle cx="70.9" cy="915.2" r="2.45"/>
<circle cx="78.2" cy="915.2" r="2.45"/>
<circle cx="120.2" cy="916.5" r="2.45"/>
<circle cx="127.5" cy="918.8" r="2.45"/>
<circle cx="113.4" cy="933.5" r="2.45"/>
<circle cx="116.9" cy="933.5" r="2.45"/>
<circle cx="120.4" cy="933.5" r="2.45"/>
<circle cx="123.9" cy="933.5" r="2.45"/>
<circle cx="127.4" cy="933.5" r="2.45"/>
<circle cx="130.9" cy="933.5" r="2.45"/>
<circle cx="134.4" cy="933.5" r="2.45"/>
<circle cx="137.9" cy="933.5" r="2.45"/>
<circle cx="141.4" cy="933.5" r="2.45"/>
<circle cx="187.5" cy="820.0" r="2.45"/>
<circle cx="172.2" cy="933.5" r="2.45"/>
<circle cx="175.7" cy="933.5" r="2.45"/>
<circle cx="179.2" cy="933.5" r="2.45"/>
<circle cx="182.7" cy="933.5" r="2.45"/>
<circle cx="186.2" cy="933.5" r="2.45"/>
<circle cx="189.7" cy="933.5" r="2.45"/>
<circle cx="193.2" cy="933.5" r="2.45"/>
<circle cx="196.7" cy="933.5" r="2.45"/>
<circle cx="200.2" cy="933.5" r="2.45"/>
<circle cx="203.7" cy="933.5" r="2.45"/>
</g>
<g>
<text class="t" x="391.60" y="810.1" font-size="15.5" textLength="66.32" lengthAdjust="spacingAndGlyphs">MIP-1α</text>
<path class="a" d="M332.5 812.2V934.2"/>
<path class="a" d="M331.8 933.5H513.8"/>
<path class="a" d="M328.1 813.0H332.5M328.1 837.0H332.5M328.1 861.3H332.5M328.1 885.0H332.5M328.1 909.4H332.5M328.1 933.5H332.5M362.4 933.5V937.7M422.5 933.5V937.7M482.7 933.5V937.7"/>
<text class="k" x="327.7" y="815.7" textLength="14.2" lengthAdjust="spacingAndGlyphs">500</text>
<text class="k" x="327.7" y="839.7" textLength="14.2" lengthAdjust="spacingAndGlyphs">400</text>
<text class="k" x="327.7" y="864.0" textLength="14.2" lengthAdjust="spacingAndGlyphs">300</text>
<text class="k" x="327.7" y="887.7" textLength="14.2" lengthAdjust="spacingAndGlyphs">200</text>
<text class="k" x="327.7" y="912.1" textLength="14.2" lengthAdjust="spacingAndGlyphs">100</text>
<text class="k" x="327.7" y="936.2" textLength="4.7" lengthAdjust="spacingAndGlyphs">0</text>
<text class="l" x="362.4" y="945.9" textLength="36.6" lengthAdjust="spacingAndGlyphs">Controls</text>
<text class="l" x="422.5" y="945.9" textLength="41.8" lengthAdjust="spacingAndGlyphs">Untreated</text>
<text class="l" x="482.7" y="945.9" textLength="31.4" lengthAdjust="spacingAndGlyphs">Treated</text>
<text class="p" transform="translate(306.4 872.5) rotate(-90)" x="0" y="0" font-size="9.8" textLength="27.4" lengthAdjust="spacingAndGlyphs">pg/mL</text>
<path class="g" d="M345.0 958.3H421.2M345.0 962.5H500.0M420.2 966.6H500.0"/>
<text class="s" x="345.0" y="955.8" textLength="11.5" lengthAdjust="spacingAndGlyphs">NS</text>
<text class="s" x="460.6" y="960.0" textLength="39.4" lengthAdjust="spacingAndGlyphs"><tspan font-style="italic">P</tspan> = .0009</text>
<text class="s" x="488.5" y="974.6" textLength="11.5" lengthAdjust="spacingAndGlyphs">NS</text>
<path class="m" style="stroke-width:1.10" d="M462.3 911.1H503.1"/>
<path class="m" d="M342.0 914.3H383.8M401.8 918.8H443.2"/>
<circle cx="347.9" cy="910.5" r="2.45"/>
<circle cx="347.9" cy="913.0" r="2.45"/>
<circle cx="347.9" cy="915.2" r="2.45"/>
<circle cx="347.9" cy="917.0" r="2.45"/>
<circle cx="355.1" cy="910.0" r="2.45"/>
<circle cx="355.1" cy="912.6" r="2.45"/>
<circle cx="355.1" cy="915.0" r="2.45"/>
<circle cx="355.1" cy="917.2" r="2.45"/>
<circle cx="362.3" cy="911.8" r="2.45"/>
<circle cx="362.3" cy="914.2" r="2.45"/>
<circle cx="362.3" cy="916.6" r="2.45"/>
<circle cx="362.3" cy="919.0" r="2.45"/>
<circle cx="369.7" cy="911.2" r="2.45"/>
<circle cx="369.7" cy="913.6" r="2.45"/>
<circle cx="369.7" cy="915.8" r="2.45"/>
<circle cx="369.7" cy="917.2" r="2.45"/>
<circle cx="376.9" cy="910.2" r="2.45"/>
<circle cx="376.9" cy="912.8" r="2.45"/>
<circle cx="376.9" cy="915.2" r="2.45"/>
<circle cx="376.9" cy="917.2" r="2.45"/>
<circle cx="351.5" cy="913.6" r="2.45"/>
<circle cx="358.8" cy="913.6" r="2.45"/>
<circle cx="366.0" cy="913.6" r="2.45"/>
<circle cx="373.3" cy="913.6" r="2.45"/>
<circle cx="351.5" cy="915.2" r="2.45"/>
<circle cx="358.8" cy="915.2" r="2.45"/>
<circle cx="366.0" cy="915.2" r="2.45"/>
<circle cx="373.3" cy="915.2" r="2.45"/>
<circle cx="422.5" cy="867.5" r="2.45"/>
<circle cx="422.5" cy="877.0" r="2.45"/>
<circle cx="422.5" cy="896.3" r="2.45"/>
<circle cx="415.2" cy="914.5" r="2.45"/>
<circle cx="422.5" cy="914.5" r="2.45"/>
<circle cx="429.8" cy="914.5" r="2.45"/>
<circle cx="411.6" cy="918.3" r="2.45"/>
<circle cx="418.9" cy="918.3" r="2.45"/>
<circle cx="426.1" cy="918.3" r="2.45"/>
<circle cx="433.4" cy="918.3" r="2.45"/>
<circle cx="408.0" cy="922.5" r="2.45"/>
<circle cx="415.2" cy="922.5" r="2.45"/>
<circle cx="422.5" cy="922.5" r="2.45"/>
<circle cx="429.8" cy="922.5" r="2.45"/>
<circle cx="437.0" cy="922.5" r="2.45"/>
<circle cx="482.7" cy="827.0" r="2.45"/>
<circle cx="482.7" cy="836.3" r="2.45"/>
<circle cx="475.3" cy="909.1" r="2.45"/>
<circle cx="482.8" cy="909.4" r="2.45"/>
<circle cx="490.3" cy="909.4" r="2.45"/>
<circle cx="468.1" cy="921.3" r="2.45"/>
<circle cx="471.3" cy="918.1" r="2.45"/>
<circle cx="473.8" cy="916.9" r="2.45"/>
<circle cx="475.6" cy="921.5" r="2.45"/>
<circle cx="478.8" cy="918.8" r="2.45"/>
<circle cx="480.6" cy="917.5" r="2.45"/>
<circle cx="482.8" cy="923.8" r="2.45"/>
<circle cx="484.4" cy="920.0" r="2.45"/>
<circle cx="487.8" cy="920.6" r="2.45"/>
<circle cx="490.6" cy="921.9" r="2.45"/>
<circle cx="492.5" cy="918.8" r="2.45"/>
<circle cx="495.6" cy="918.1" r="2.45"/>
<circle cx="498.1" cy="920.6" r="2.45"/>
<circle cx="499.0" cy="916.9" r="2.45"/>
<circle cx="482.8" cy="933.2" r="2.45"/>
</g>
</svg></body></html>
